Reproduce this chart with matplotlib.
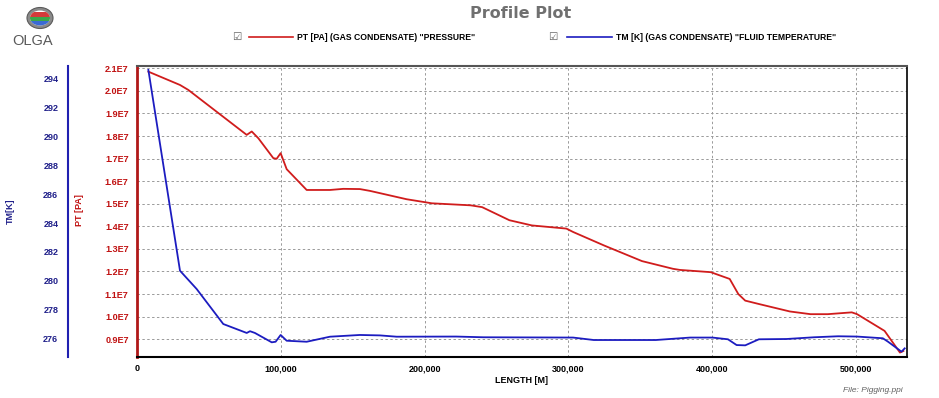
import numpy as np
import matplotlib
matplotlib.use("Agg")
from matplotlib import pyplot as plt
from matplotlib.lines import Line2D
from matplotlib.patches import Ellipse, Rectangle
from matplotlib.ticker import FixedLocator, FuncFormatter

# Profile data (length in m)
x_pt = [7900, 29900, 35700, 76300, 79800, 84400, 94800, 97100, 99900, 104100,
        118000, 134200, 143500, 155000, 162000, 187500, 205000, 232000, 240000, 259000,
        274600, 298600, 303300, 324900, 351200, 372700, 377500, 399000, 412200, 418200,
        423000, 432500, 454000, 468400, 480400, 497100, 500800, 519900, 530600, 533000]
pt_mpa = [20.85, 20.26, 20.04, 18.05, 18.2, 17.9, 17.02, 16.99, 17.24, 16.53,
          15.61, 15.61, 15.66, 15.65, 15.57, 15.2, 15.02, 14.93, 14.85, 14.27,
          14.04, 13.9, 13.75, 13.15, 12.46, 12.12, 12.07, 11.97, 11.67, 11.0,
          10.71, 10.56, 10.23, 10.11, 10.11, 10.19, 10.11, 9.37, 8.41, 8.48]

x_tm = [7900, 29900, 41500, 60000, 76300, 78600, 82000, 93700, 96400, 99900,
        104100, 118000, 134200, 155000, 169000, 180600, 222000, 241000, 303300, 317700,
        360800, 384700, 400200, 411000, 417000, 423000, 432500, 451700, 470800, 487600,
        500700, 518700, 522200, 531700, 533900]
tm_k = [294.63, 280.69, 279.42, 276.99, 276.37, 276.49, 276.37, 275.72, 275.76, 276.23,
        275.83, 275.76, 276.11, 276.23, 276.2, 276.11, 276.12, 276.07, 276.05, 275.88,
        275.88, 276.05, 276.05, 275.93, 275.53, 275.51, 275.93, 275.95, 276.07, 276.14,
        276.12, 276.0, 275.77, 275.07, 275.3]

x_ticks = [0, 100000, 200000, 300000, 400000, 500000]
pt_ticks = [9e6, 10e6, 11e6, 12e6, 13e6, 14e6, 15e6, 16e6, 17e6, 18e6, 19e6, 20e6, 21e6]
tm_ticks = [276, 278, 280, 282, 284, 286, 288, 290, 292, 294]

pt_label = 'PT [PA] (GAS CONDENSATE) "PRESSURE"'
tm_label = 'TM [K] (GAS CONDENSATE) "FLUID TEMPERATURE"'

RED = "#d01c1c"
BLUE = "#1c1cc0"
W, H = 939, 398

plt.rcParams["font.family"] = ["Liberation Sans", "DejaVu Sans"]

fig = plt.figure(figsize=(W / 100, H / 100), dpi=100)
fig.patch.set_facecolor("white")

# main axes in pixel box: x 137..906.7, y 66..357.3
ax = fig.add_axes([137 / W, (H - 357.3) / H, (906.7 - 137) / W, (357.3 - 66) / H])
ax.plot(np.array(x_pt), np.array(pt_mpa) * 1e6, color=RED, lw=1.3, zorder=3)
ax.set_xlim(0, 535300)
ax.set_ylim(8.2e6, 21.1e6)
ax.xaxis.set_major_locator(FixedLocator(x_ticks))
ax.xaxis.set_major_formatter(FuncFormatter(lambda v, p: f"{int(v):,}"))
ax.yaxis.set_major_locator(FixedLocator(pt_ticks))
ax.yaxis.set_major_formatter(FuncFormatter(lambda v, p: f"{v / 1e7:.1f}E7"))
ax.grid(True, color="#9a9a9a", linestyle=(0, (2.5, 2.5)), lw=0.7)
ax.tick_params(axis="x", length=0, pad=5, labelsize=6.5, colors="black")
ax.tick_params(axis="y", length=0, pad=6, labelsize=6.5, colors="#c01010")
for lab in ax.get_xticklabels() + ax.get_yticklabels():
    lab.set_fontweight("bold")
ax.spines["left"].set_color("#b01818")
ax.spines["left"].set_linewidth(2)
ax.spines["bottom"].set_color("black")
ax.spines["bottom"].set_linewidth(1.5)
ax.spines["right"].set_color("black")
ax.spines["right"].set_linewidth(1.2)
ax.spines["top"].set_color("#555555")
ax.spines["top"].set_linewidth(1.5)
ax.set_xlabel("LENGTH [M]", fontsize=6.5, fontweight="bold", labelpad=2)

# temperature on a second scale, spine pushed out to the left
ax2 = ax.twinx()
ax2.plot(x_tm, tm_k, color=BLUE, lw=1.3, zorder=3)
ax2.set_ylim(274.68, 294.9)
ax2.yaxis.set_major_locator(FixedLocator(tm_ticks))
ax2.yaxis.set_label_position("left")
ax2.yaxis.set_ticks_position("left")
ax2.spines["left"].set_position(("outward", 69 * 0.72))
ax2.spines["left"].set_color("#2020b0")
ax2.spines["left"].set_linewidth(1.5)
for s in ["right", "top", "bottom"]:
    ax2.spines[s].set_visible(False)
ax2.tick_params(axis="y", length=0, pad=7, labelsize=6.5, colors="#20208a")
for lab in ax2.get_yticklabels():
    lab.set_fontweight("bold")

fig.text(10 / W, 1 - 211 / H, "TM[K]", rotation=90, color="#20208a", fontsize=6.5,
         fontweight="bold", ha="center", va="center")
fig.text(80 / W, 1 - 210 / H, "PT [PA]", rotation=90, color="#c01010", fontsize=6.5,
         fontweight="bold", ha="center", va="center")

# title
fig.text(521 / W, 1 - 13 / H, "Profile Plot", color="#707070", fontsize=11.5,
         fontweight="bold", family="DejaVu Sans", ha="center", va="center")

# legend row
ly = 1 - 37 / H
for cx, x0, x1, tx, col, lab in [(237, 249, 293, 297, RED, pt_label),
                                 (553, 567, 612, 616, BLUE, tm_label)]:
    fig.text(cx / W, ly, "\u2611", family="DejaVu Sans", fontsize=7.5,
             color="#606060", ha="center", va="center")
    fig.add_artist(Line2D([x0 / W, x1 / W], [ly, ly], color=col, lw=1.2,
                          transform=fig.transFigure))
    fig.text(tx / W, ly, lab, fontsize=6.2, fontweight="bold", ha="left", va="center")

# OLGA logo
la = fig.add_axes([20 / W, 1 - 31 / H, 40 / W, 26 / H])
la.set_xlim(0, 40)
la.set_ylim(0, 26)
la.axis("off")
cx, cy = 20, 13
ring = Ellipse((cx, cy), 26, 21, facecolor="#8a8a8a", edgecolor="#5a5a5a", lw=0.8)
la.add_patch(ring)
inner = Ellipse((cx, cy), 20, 15, facecolor="white", edgecolor="none")
la.add_patch(inner)
for y0, hh, c in [(14.5, 5, "#d43a3a"), (10.5, 3.5, "#3aa84a"), (5.5, 4.5, "#3a6ad4")]:
    r = Rectangle((cx - 11, y0), 22, hh, facecolor=c, edgecolor="none")
    la.add_patch(r)
    r.set_clip_path(inner)
fig.text(33 / W, 1 - 41 / H, "OLGA", color="#5a5a5a", fontsize=10.5,
         ha="center", va="center")

fig.text(903 / W, 1 - 390 / H, "File: Pigging.ppi", color="#606060", fontsize=6,
         style="italic", ha="right", va="center")

fig.savefig("out.png", dpi=100, facecolor="white")
